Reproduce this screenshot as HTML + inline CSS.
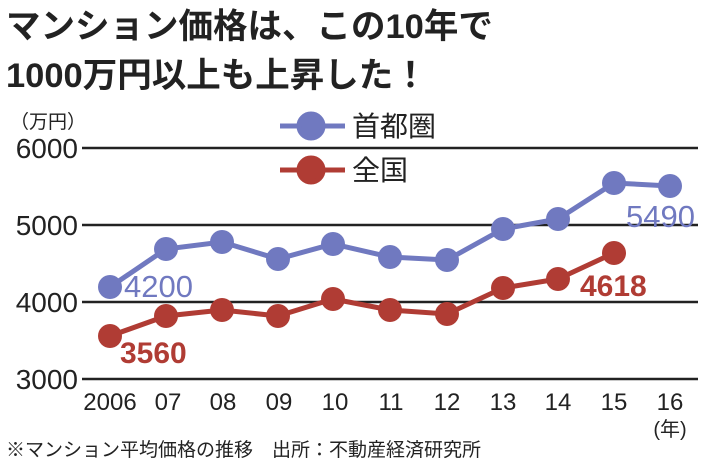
<!DOCTYPE html>
<html><head><meta charset="utf-8"><style>
body{margin:0;background:#fff}
svg text{font-family:"Liberation Sans","Noto Sans CJK JP",sans-serif}
</style></head><body>
<svg width="710" height="469" viewBox="0 0 710 469" xmlns="http://www.w3.org/2000/svg">
<rect width="710" height="469" fill="#fff"/>
<text x="6" y="38" font-size="34.5" font-weight="bold" fill="#222">マンション価格は、この10年で</text>
<text x="6" y="87" font-size="34.5" font-weight="bold" fill="#222">1000万円以上も上昇した！</text>
<text x="10" y="128" font-size="19" fill="#222">（万円）</text>
<g stroke="#222" stroke-width="2.5">
<line x1="82" y1="148" x2="698" y2="148"/>
<line x1="82" y1="225" x2="698" y2="225"/>
<line x1="82" y1="302" x2="698" y2="302"/>
<line x1="82" y1="379" x2="698" y2="379"/>
</g>
<g font-size="28" fill="#222" text-anchor="end">
<text x="78" y="158">6000</text><text x="78" y="235">5000</text>
<text x="78" y="312">4000</text><text x="78" y="389">3000</text>
</g>
<g font-size="24" fill="#222" text-anchor="middle">
<text x="110" y="410">2006</text><text x="168" y="410">07</text><text x="223" y="410">08</text>
<text x="279" y="410">09</text><text x="335" y="410">10</text><text x="391" y="410">11</text>
<text x="447" y="410">12</text><text x="503" y="410">13</text><text x="558" y="410">14</text>
<text x="614" y="410">15</text><text x="670" y="410">16</text>
<text x="670" y="436" font-size="20">(年)</text>
</g>
<g stroke="#7079c0" stroke-width="5" fill="#7079c0">
<line x1="280" y1="126" x2="345" y2="126"/><circle cx="311" cy="126" r="12"/>
<polyline fill="none" points="110,287 166,249 222,242 278,259 333,244 390,257 447,260 503,229 558,219 614,183 670,186"/>
<g stroke="none"><circle cx="110" cy="287" r="12"/><circle cx="166" cy="249" r="12"/><circle cx="222" cy="242" r="12"/><circle cx="278" cy="259" r="12"/><circle cx="333" cy="244" r="12"/><circle cx="390" cy="257" r="12"/><circle cx="447" cy="260" r="12"/><circle cx="503" cy="229" r="12"/><circle cx="558" cy="219" r="12"/><circle cx="614" cy="183" r="12"/><circle cx="670" cy="186" r="12"/></g>
</g>
<g stroke="#b03c34" stroke-width="5" fill="#b03c34">
<line x1="280" y1="170" x2="345" y2="170"/><circle cx="311" cy="170" r="12"/>
<polyline fill="none" points="110,336 166,316 222,310 278,316 333,299 390,310 447,314 503,288 558,279 614,253"/>
<g stroke="none"><circle cx="110" cy="336" r="12"/><circle cx="166" cy="316" r="12"/><circle cx="222" cy="310" r="12"/><circle cx="278" cy="316" r="12"/><circle cx="333" cy="299" r="12"/><circle cx="390" cy="310" r="12"/><circle cx="447" cy="314" r="12"/><circle cx="503" cy="288" r="12"/><circle cx="558" cy="279" r="12"/><circle cx="614" cy="253" r="12"/></g>
</g>
<text x="352" y="136" font-size="28" fill="#222">首都圏</text>
<text x="352" y="180" font-size="28" fill="#222">全国</text>
<text x="124" y="297" font-size="31" fill="#7079c0">4200</text>
<text x="626" y="227" font-size="31" fill="#7079c0">5490</text>
<text x="120" y="363" font-size="30" font-weight="bold" fill="#b03c34">3560</text>
<text x="580" y="296" font-size="30" font-weight="bold" fill="#b03c34">4618</text>
<text x="6" y="456" font-size="19" fill="#222">※マンション平均価格の推移　出所：不動産経済研究所</text>
</svg>
</body></html>
